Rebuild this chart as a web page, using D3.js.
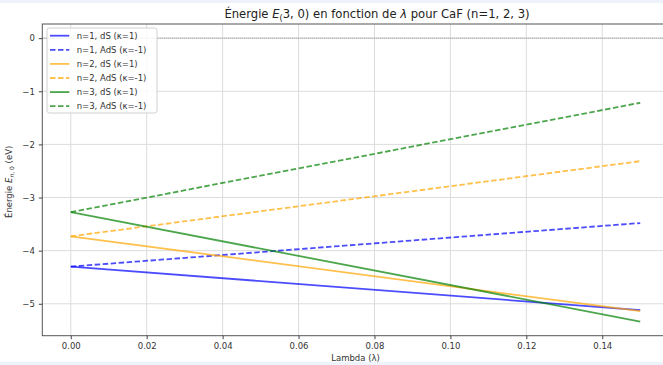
<!DOCTYPE html>
<html><head><meta charset="utf-8">
<script src="https://cdn.jsdelivr.net/npm/d3@7"></script>
<style>
body{margin:0;background:#fff}
svg{display:block;font-family:"DejaVu Sans",sans-serif}
</style>
</head><body>
<svg id="c" width="663" height="365"></svg>
<script>
// ---- data ----
const lambdas = [0.0, 0.15];
const n1_dS  = [-4.30, -5.12];
const n1_AdS = [-4.30, -3.48];
const n2_dS  = [-3.73, -5.14];
const n2_AdS = [-3.73, -2.315];
const n3_dS  = [-3.275, -5.334];
const n3_AdS = [-3.275, -1.216];
const seriesLabels = ["n=1, dS (κ=1)", "n=1, AdS (κ=-1)", "n=2, dS (κ=1)", "n=2, AdS (κ=-1)", "n=3, dS (κ=1)", "n=3, AdS (κ=-1)"];
const seriesColors = ["#0000ff", "#0000ff", "#ffa500", "#ffa500", "#008000", "#008000"];
const seriesDashed = [false, true, false, true, false, true];
const xTicks = [0, 0.02, 0.04, 0.06, 0.08, 0.10, 0.12, 0.14];
const yTicks = [0, -1, -2, -3, -4, -5];

const seriesValues = [n1_dS, n1_AdS, n2_dS, n2_AdS, n3_dS, n3_AdS];
const series = seriesValues.map((v, i) => ({
  label: seriesLabels[i], color: seriesColors[i], dashed: seriesDashed[i],
  pts: lambdas.map((l, j) => [l, v[j]])
}));

// ---- layout ----
const svg = d3.select("#c");
const L = 42.3, R = 668.7, T = 24, B = 335.7;

// matplotlib-like 5% margins
const xmin = d3.min(lambdas), xmax = d3.max(lambdas);
const xpad = (xmax - xmin) * 0.05;
const allY = seriesValues.flat().concat([0]);
const ymin = d3.min(allY), ymax = d3.max(allY);
const ypad = (ymax - ymin) * 0.05;

const x = d3.scaleLinear().domain([xmin - xpad, xmax + xpad]).range([L, R]);
const y = d3.scaleLinear().domain([ymin - ypad, ymax + ypad]).range([B, T]);

// top/bottom screenshot bands
svg.append("rect").attr("x",0).attr("y",0).attr("width",663).attr("height",3).attr("fill","#eef3fb");
svg.append("rect").attr("x",0).attr("y",362).attr("width",663).attr("height",3).attr("fill","#eef3fb");

// grid
const grid = svg.append("g");
grid.selectAll("line.gx").data(xTicks).enter().append("line")
  .attr("x1", d => x(d)).attr("x2", d => x(d)).attr("y1", T).attr("y2", B)
  .attr("stroke", "#dcdcdc").attr("stroke-width", 1);
grid.selectAll("line.gy").data(yTicks).enter().append("line")
  .attr("x1", L).attr("x2", R).attr("y1", d => y(d)).attr("y2", d => y(d))
  .attr("stroke", "#dcdcdc").attr("stroke-width", 1);

// zero reference line (dotted)
svg.append("line").attr("x1", L).attr("x2", R).attr("y1", y(0)).attr("y2", y(0))
  .attr("stroke", "#888").attr("stroke-width", 1).attr("stroke-dasharray", "1,1");

// series lines
const line = d3.line().x(d => x(d[0])).y(d => y(d[1]));
svg.append("g").selectAll("path").data(series).enter().append("path")
  .attr("d", d => line(d.pts))
  .attr("fill", "none")
  .attr("stroke", d => d.color)
  .attr("stroke-opacity", 0.7)
  .attr("stroke-width", 1.8)
  .attr("stroke-dasharray", d => d.dashed ? "5.5,2.5" : null);

// spines
svg.append("rect").attr("x", L).attr("y", T).attr("width", R - L).attr("height", B - T)
  .attr("fill", "none").attr("stroke", "#555").attr("stroke-width", 1);

// axes
const xAxis = d3.axisBottom(x).tickValues(xTicks).tickFormat(d3.format(".2f")).tickSizeOuter(0).tickSize(3.5).tickPadding(4);
const gx = svg.append("g").attr("transform", `translate(0,${B})`).call(xAxis);
const yAxis = d3.axisLeft(y).tickValues(yTicks).tickFormat(d => d === 0 ? "0" : "\u2212" + Math.abs(d)).tickSizeOuter(0).tickSize(3.5).tickPadding(4);
const gy = svg.append("g").attr("transform", `translate(${L},0)`).call(yAxis);
[gx, gy].forEach(g => {
  g.select(".domain").remove();
  g.selectAll(".tick line").attr("stroke", "#444");
  g.selectAll(".tick text").attr("fill", "#333").attr("font-size", 8.5).attr("font-family", "DejaVu Sans");
});

// title
const title = svg.append("text").attr("x", 377).attr("y", 18)
  .attr("text-anchor", "middle").attr("font-size", 11.6).attr("fill", "#222");
title.append("tspan").text("Énergie ");
title.append("tspan").attr("font-style", "italic").text("E");
title.append("tspan").attr("font-size", 8.2).attr("dy", 2.5).text("(");
title.append("tspan").attr("dy", -2.5).text("3, 0) en fonction de ");
title.append("tspan").attr("font-style", "italic").text("λ");
title.append("tspan").text(" pour CaF (n=1, 2, 3)");

// x label
svg.append("text").attr("x", (L + R) / 2).attr("y", 361).attr("text-anchor", "middle")
  .attr("font-size", 8.5).attr("fill", "#333").text("Lambda (λ)");

// y label
const yl = svg.append("text").attr("transform", `translate(12,${(T + B) / 2 + 2}) rotate(-90)`)
  .attr("text-anchor", "middle").attr("font-size", 8.5).attr("fill", "#333");
yl.append("tspan").text("Énergie ");
yl.append("tspan").attr("font-style", "italic").text("E");
yl.append("tspan").attr("font-size", 6).attr("dy", 2).attr("font-style", "italic").text("n");
yl.append("tspan").attr("font-size", 6).text(", 0");
yl.append("tspan").attr("dy", -2).text(" (eV)");

// legend
const lg = svg.append("g").attr("transform", "translate(47,28)");
lg.append("rect").attr("width", 110).attr("height", 85).attr("rx", 2.5)
  .attr("fill", "#fff").attr("fill-opacity", 0.85).attr("stroke", "#d0d0d0").attr("stroke-width", 1);
const items = lg.selectAll("g.it").data(series).enter().append("g")
  .attr("transform", (d, i) => `translate(0,${7.7 + i * 14.1})`);
items.append("line").attr("x1", 3).attr("x2", 22.3).attr("y1", 0).attr("y2", 0)
  .attr("stroke", d => d.color).attr("stroke-opacity", 0.7).attr("stroke-width", 1.8)
  .attr("stroke-dasharray", d => d.dashed ? "5.5,2.5" : null);
items.append("text").attr("x", 29.7).attr("y", 3).attr("font-size", 8.5).attr("fill", "#333")
  .text(d => d.label);
</script>
</body></html>
